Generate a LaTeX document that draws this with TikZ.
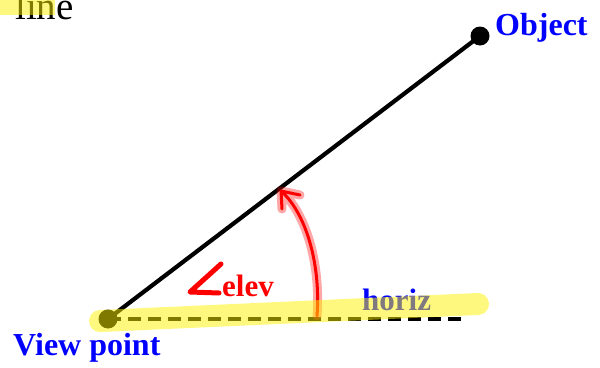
\documentclass[tikz,border=0pt]{standalone}
\usepackage{fontspec}
\setmainfont{Liberation Serif}
\begin{document}
\begin{tikzpicture}[x=1pt,y=-1pt,
  lbl/.style={font=\fontsize{32}{38}\selectfont\bfseries, text=blue, inner sep=0},
  hilite/.style={draw=yellow, opacity=0.5, line width=22pt, line cap=round},
  dotnode/.style={circle, fill=black, minimum size=19pt, inner sep=0},
  glow/.style={draw=red, opacity=0.35, line width=9pt, line cap=round, line join=round},
  pen/.style={draw=red, line width=3pt, line cap=round, line join=round}]
\useasboundingbox (0,0) rectangle (600,367);
% top text
\node[inner sep=0, anchor=base west, font=\fontsize{39}{46}\selectfont] (toptext) at (15,19) {line};
\fill[yellow, opacity=0.5] (0,0) rectangle (55,15);
% geometry
\coordinate (vp) at (108,319);
\coordinate (obj) at (480,36);
\coordinate (hz) at (467,319);
\draw[line width=4.2pt] (vp) -- (obj);
\draw[line width=4.5pt, dash pattern=on 13pt off 7pt] (vp) -- (hz);
\node[dotnode] (vpd) at (vp) {};
\node[dotnode] (objd) at (obj) {};
% labels
\node[lbl, anchor=base west] (objl) at (495,35) {Object};
\node[lbl, anchor=base west] (vpl) at (13,355) {View point};
\node[lbl, anchor=base west, font=\fontsize{31}{37}\selectfont\bfseries] (hl) at (362,310) {horiz};
\node[inner sep=0, anchor=base west, text=red, font=\fontsize{31}{37}\selectfont\bfseries] (el) at (222,296) {elev};
% angle sign
\draw[red, line width=5pt, line cap=round, line join=round] (221,264) -- (190,292) -- (219,293);
% arc arrow
\coordinate (atip) at (281,191);
\coordinate (abase) at (317,316);
\path[glow] (abase) .. controls (321,262) and (305,212) .. (atip) -- (300,195) (atip) -- (282,209);
\path[pen] (abase) .. controls (321,262) and (305,212) .. (atip) -- (300,195) (atip) -- (282,209);
% highlighter
\path[hilite] (100,321) -- (478,304);
\end{tikzpicture}
\end{document}
